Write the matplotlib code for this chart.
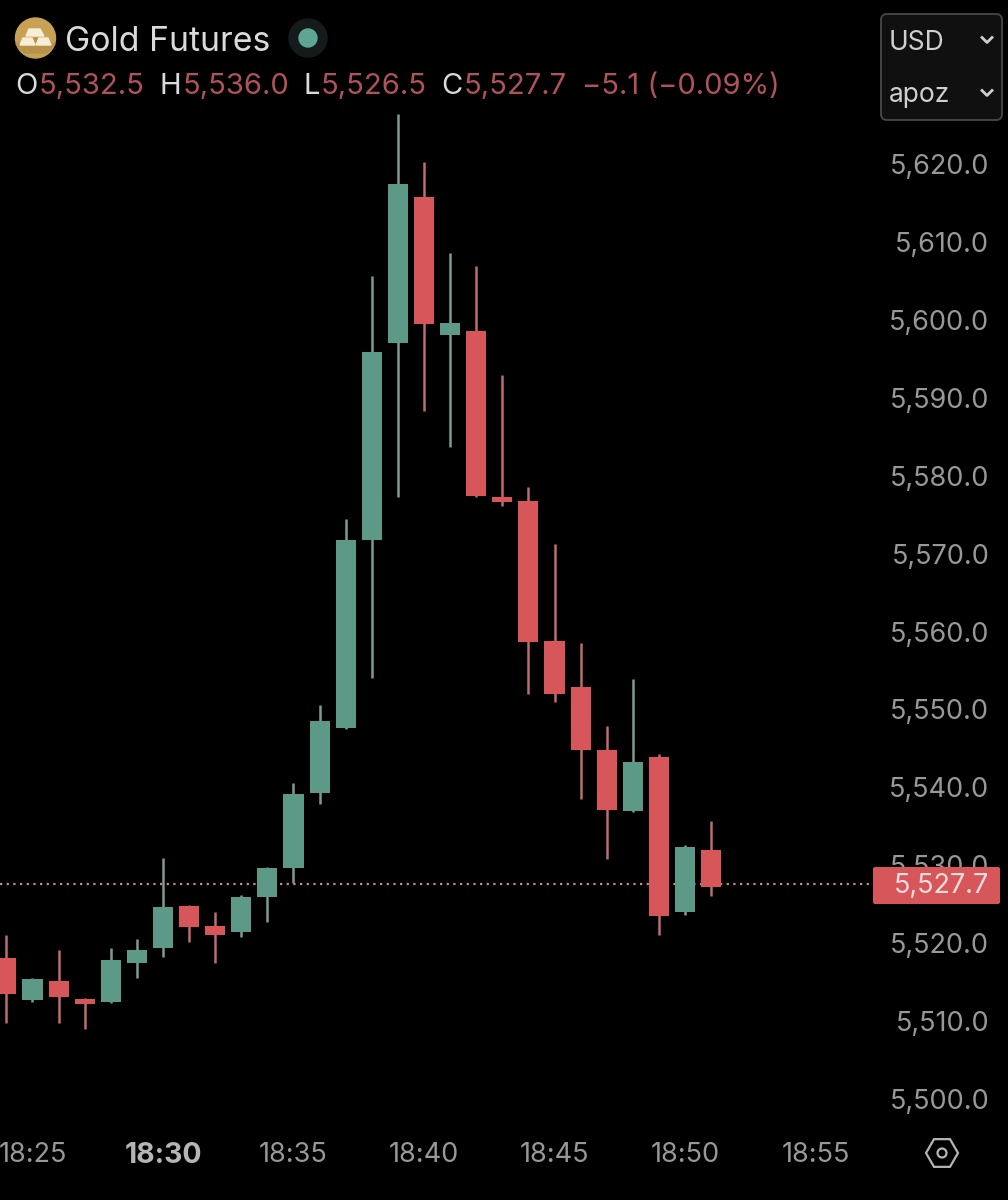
import matplotlib
matplotlib.use("Agg")
import matplotlib.pyplot as plt
from matplotlib.patches import Circle, FancyBboxPatch, Polygon, RegularPolygon
from matplotlib.transforms import ScaledTranslation

# minutes after 18:00
minutes = list(range(24, 52))
opens = [5518.2, 5512.8, 5515.3, 5513.0, 5512.6, 5517.6, 5519.5, 5524.9, 5522.3, 5521.6, 5526.1, 5529.8, 5539.4, 5547.8,
         5571.9, 5597.2, 5615.9, 5598.2, 5598.7, 5577.4, 5576.9, 5558.9, 5553.0, 5544.9, 5537.1, 5544.0, 5524.1, 5532.1]
closes = [5513.6, 5515.5, 5513.2, 5512.3, 5518.0, 5519.3, 5524.8, 5522.2, 5521.2, 5526.1, 5529.8, 5539.3, 5548.7, 5571.9,
          5596.0, 5617.6, 5599.6, 5599.7, 5577.5, 5576.8, 5558.8, 5552.1, 5544.9, 5537.2, 5543.4, 5523.6, 5532.5, 5527.3]
highs = [5521.2, 5515.7, 5519.3, 5513.1, 5519.5, 5520.7, 5531.1, 5525.0, 5524.1, 5526.3, 5529.9, 5540.7, 5550.7, 5574.6,
         5605.8, 5626.6, 5620.4, 5608.7, 5607.1, 5593.1, 5578.7, 5571.4, 5558.7, 5548.0, 5554.0, 5544.4, 5532.7, 5535.8]
lows = [5509.9, 5512.6, 5509.9, 5509.1, 5512.5, 5515.7, 5518.4, 5520.3, 5517.6, 5520.9, 5522.8, 5527.9, 5538.0, 5547.6,
        5554.2, 5577.4, 5588.4, 5583.8, 5577.4, 5576.3, 5552.1, 5551.1, 5538.6, 5530.9, 5537.0, 5521.2, 5523.7, 5526.2]

price_ticks = [5500, 5510, 5520, 5530, 5540, 5550, 5560, 5570, 5580, 5590, 5600, 5610, 5620]
time_ticks = [25, 30, 35, 40, 45, 50, 55]
time_labels = ["18:25", "18:30", "18:35", "18:40", "18:45", "18:50", "18:55"]
last_price = 5527.7
last_label = "5,527.7"

GREEN = "#5c9a87"
RED = "#d6565a"
GREEN_WICK = "#7d9c90"
RED_WICK = "#bd6d72"
DIMRED = "#b0525a"
TICK = "#989898"
WHITE = "#dadada"
FONT = ["Inter", "DejaVu Sans"]

plt.rcParams["font.family"] = FONT
fig = plt.figure(figsize=(10.08, 12), dpi=100, facecolor="black")
ax = fig.add_axes([0, 0, 1, 1], facecolor="black")
ax.set_xlim(23.755, 62.375)
ax.set_ylim(5487.16, 5641.2)
for s in ax.spines.values():
    s.set_visible(False)

ax.yaxis.tick_right()
ax.set_yticks(price_ticks)
ax.set_yticklabels([f"{p:,.1f}" for p in price_ticks], ha="right", va="center")
ax.tick_params(axis="y", length=0, pad=-13.5, labelsize=19.5, labelcolor=TICK)
ax.set_xticks(time_ticks)
ax.set_xticklabels(time_labels, va="center")
ax.tick_params(axis="x", length=0, pad=-33.5, labelsize=19.5, labelcolor=TICK)
bold = ax.get_xticklabels()[1]
bold.set_fontweight("bold")
bold.set_fontsize(20.5)
bold.set_color("#b5b5b5")
down = ScaledTranslation(0, -2 / 100, fig.dpi_scale_trans)
for lab in ax.get_yticklabels() + ax.get_xticklabels():
    lab.set_transform(lab.get_transform() + down)

colors = [GREEN if c >= o else RED for o, c in zip(opens, closes)]
wicks = [GREEN_WICK if c >= o else RED_WICK for o, c in zip(opens, closes)]
ax.vlines(minutes, lows, highs, colors=wicks, linewidth=1.8, zorder=3)
ax.bar(minutes, [max(abs(c - o), 0.3) for o, c in zip(opens, closes)],
       bottom=[min(o, c) for o, c in zip(opens, closes)], width=0.77, color=colors, zorder=4)
ax.plot([23.755, 57.1], [last_price, last_price], color="#c48c8c", lw=1.6, ls=(0, (1, 2.0)), zorder=2)

# pixel-space overlay for header and widgets
ov = fig.add_axes([0, 0, 1, 1], facecolor="none")
ov.set_xlim(0, 1008)
ov.set_ylim(1200, 0)
ov.axis("off")

# logo
ov.add_patch(Circle((35.5, 38), 20, color="#c7a254"))
ov.add_patch(Polygon([(35.5, 38), (55, 44), (47, 53), (24, 53), (16, 44)], closed=True, color="#b8924a"))
ov.add_patch(Polygon([(29, 29), (40, 29), (44, 36), (26, 36)], closed=True, color="#f7eed8"))
ov.add_patch(Polygon([(23, 38), (32, 38), (35, 45), (20, 45)], closed=True, color="#f7eed8"))
ov.add_patch(Polygon([(39, 38), (48, 38), (51, 45), (36, 45)], closed=True, color="#f7eed8"))
ov.text(65, 51, "Gold Futures", color=WHITE, fontsize=24.3, va="baseline", ha="left")
ov.add_patch(Circle((308, 38), 19, color="#141b1a"))
ov.add_patch(Circle((308, 38), 9, color="#5fa692"))

# OHLC row
for x, label, col in [(15, "O", WHITE), (39, "5,532.5", DIMRED), (159, "H", WHITE), (183, "5,536.0", DIMRED),
                      (303, "L", WHITE), (321, "5,526.5", DIMRED), (441, "C", WHITE), (464, "5,527.7", DIMRED),
                      (582, "\u22125.1 (\u22120.09%)", DIMRED)]:
    ov.text(x, 94, label, color=col, fontsize=21, va="baseline", ha="left")

# currency / unit box
ov.add_patch(FancyBboxPatch((881, 14), 121, 106, boxstyle="round,pad=0,rounding_size=6",
                            fc="#101010", ec="#444444", lw=1.4))
ov.text(889, 50, "USD", color="#cfcfcf", fontsize=19, va="baseline", ha="left")
ov.text(889, 102, "apoz", color="#cfcfcf", fontsize=19, va="baseline", ha="left")
for cy in (40, 93):
    ov.plot([982, 987, 992], [cy - 2.5, cy + 2.5, cy - 2.5], color="#cfcfcf", lw=2)

# last price tag
ov.add_patch(FancyBboxPatch((873, 867), 127, 37, boxstyle="round,pad=0,rounding_size=2", fc=RED, ec="none"))
ov.text(989, 893.5, last_label, color="#f3dddd", fontsize=19.5, va="baseline", ha="right")

# settings icon
ov.add_patch(RegularPolygon((942, 1153), 6, radius=16, orientation=3.14159 / 2, fc="none", ec="#b5b5b5", lw=1.6))
ov.add_patch(Circle((942, 1153), 4.5, fc="none", ec="#b5b5b5", lw=1.6))

fig.savefig("out.png", dpi=100, facecolor="black")
